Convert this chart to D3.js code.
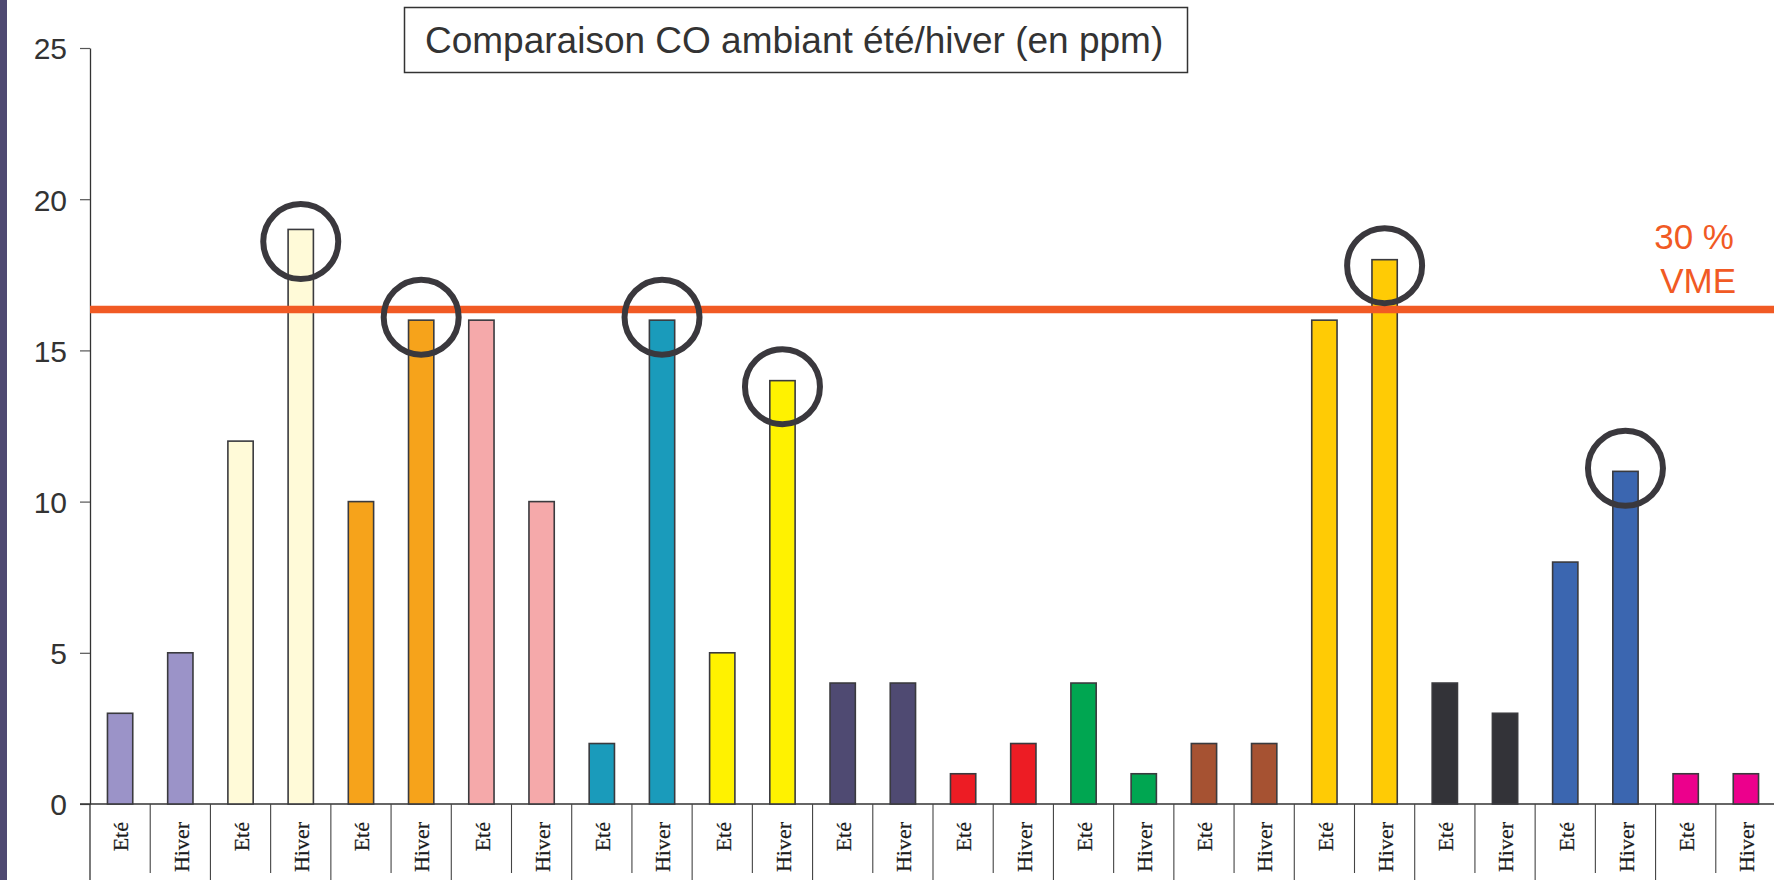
<!DOCTYPE html>
<html>
<head>
<meta charset="utf-8">
<script src="https://cdn.jsdelivr.net/npm/d3@7"></script>
<style>
  html, body { margin: 0; padding: 0; background: #fff; }
  svg { display: block; }
</style>
</head>
<body>
<svg id="chart" width="1774" height="880"></svg>
<script>
// ---- data ----
const categories = ["Eté","Hiver","Eté","Hiver","Eté","Hiver","Eté","Hiver","Eté","Hiver","Eté","Hiver","Eté","Hiver",
                    "Eté","Hiver","Eté","Hiver","Eté","Hiver","Eté","Hiver","Eté","Hiver","Eté","Hiver","Eté","Hiver"];
const values = [3,5,12,19,10,16,16,10,2,16,5,14,4,4,1,2,4,1,2,2,16,18,4,3,8,11,1,1];
const pairColors = ["#9b93c8","#fffad8","#f6a31b","#f5a9aa","#1a9bbb","#fff200","#4f4a72",
                    "#ed1c24","#00a651","#a65232","#ffcb05","#333338","#3b66b0","#ec008c"];
const yTicks = [0,5,10,15,20,25];
const limitValue = 16.35;
const limitLabel = ["30 %","VME"];
const titleText = "Comparaison CO ambiant été/hiver (en ppm)";
const circledIndex = [3,5,9,11,21,25];
const circledValue = [18.6,16.1,16.1,13.8,17.8,11.1];

// ---- scales ----
const svg = d3.select("#chart");
const W = 1774, H = 880;
const x = d3.scaleBand().domain(d3.range(categories.length)).range([90, 1776]).padding(0);
const y = d3.scaleLinear().domain([0,25]).range([804, 48]);
const barW = x.step() * 0.42;

// left strip
svg.append("rect").attr("x",0).attr("y",0).attr("width",7).attr("height",H).attr("fill","#4f4a72");

// y axis
const yAxis = d3.axisLeft(y).tickValues(yTicks).tickSize(10).tickSizeOuter(0).tickFormat(d3.format("d"));
const gy = svg.append("g").attr("transform","translate(90,0)").call(yAxis);
gy.select(".domain").attr("stroke","#333").attr("stroke-width",1.3);
gy.selectAll(".tick line").attr("stroke","#555").attr("stroke-width",1.2);
gy.selectAll(".tick text").attr("font-family","'Liberation Sans', Arial, sans-serif")
  .attr("font-size",30).attr("fill","#333").attr("x",-23).attr("dy","0.36em");

// baseline
svg.append("line").attr("x1",80).attr("x2",1776).attr("y1",y(0)).attr("y2",y(0))
  .attr("stroke","#333").attr("stroke-width",1.3);

// category separators
const bounds = d3.range(1, categories.length + 1);
svg.append("g").selectAll("line").data(bounds).join("line")
  .attr("x1", i => x.step()*i + 90).attr("x2", i => x.step()*i + 90)
  .attr("y1", y(0)).attr("y2", i => i % 2 === 0 ? H : 873)
  .attr("stroke","#444").attr("stroke-width",1.1);
svg.append("line").attr("x1",90).attr("x2",90).attr("y1",y(0)).attr("y2",H)
  .attr("stroke","#333").attr("stroke-width",1.3);

// bars
svg.append("g").selectAll("rect").data(values).join("rect")
  .attr("x", (d,i) => x(i) + x.bandwidth()/2 - barW/2)
  .attr("y", d => y(d))
  .attr("width", barW)
  .attr("height", d => y(0) - y(d))
  .attr("fill", (d,i) => pairColors[Math.floor(i/2)])
  .attr("stroke","#3a3a3e").attr("stroke-width",1.6);

// category labels
svg.append("g").selectAll("text").data(categories).join("text")
  .attr("transform", (d,i) => `translate(${x(i)+x.bandwidth()/2 + 1},822) rotate(-90)`)
  .attr("text-anchor","end").attr("dy","0.33em")
  .attr("font-family","'Liberation Serif', 'Times New Roman', serif")
  .attr("font-size",22).attr("fill","#1a1a1a")
  .attr("stroke","#1a1a1a").attr("stroke-width",0.25)
  .text(d => d);

// limit line
svg.append("line").attr("x1",90).attr("x2",W).attr("y1",y(limitValue)).attr("y2",y(limitValue))
  .attr("stroke","#f15a24").attr("stroke-width",7.5);
const lt = svg.append("text").attr("text-anchor","end")
  .attr("font-family","'Liberation Sans', Arial, sans-serif").attr("font-size",35).attr("fill","#f15a24");
lt.append("tspan").attr("x",1734).attr("y",249).text(limitLabel[0]);
lt.append("tspan").attr("x",1736).attr("y",293).text(limitLabel[1]);

// circles
svg.append("g").selectAll("circle").data(circledIndex).join("circle")
  .attr("cx", d => x(d) + x.bandwidth()/2)
  .attr("cy", (d,k) => y(circledValue[k]))
  .attr("r", 37.5)
  .attr("fill","none").attr("stroke","#3a383d").attr("stroke-width",6);

// title box
svg.append("rect").attr("x",404.5).attr("y",7.5).attr("width",783).attr("height",65)
  .attr("fill","#fff").attr("stroke","#333").attr("stroke-width",1.5);
svg.append("text").attr("x",425).attr("y",53).attr("text-anchor","start")
  .attr("font-family","'Liberation Sans', Arial, sans-serif").attr("font-size",37).attr("fill","#333")
  .text(titleText);
</script>
</body>
</html>
